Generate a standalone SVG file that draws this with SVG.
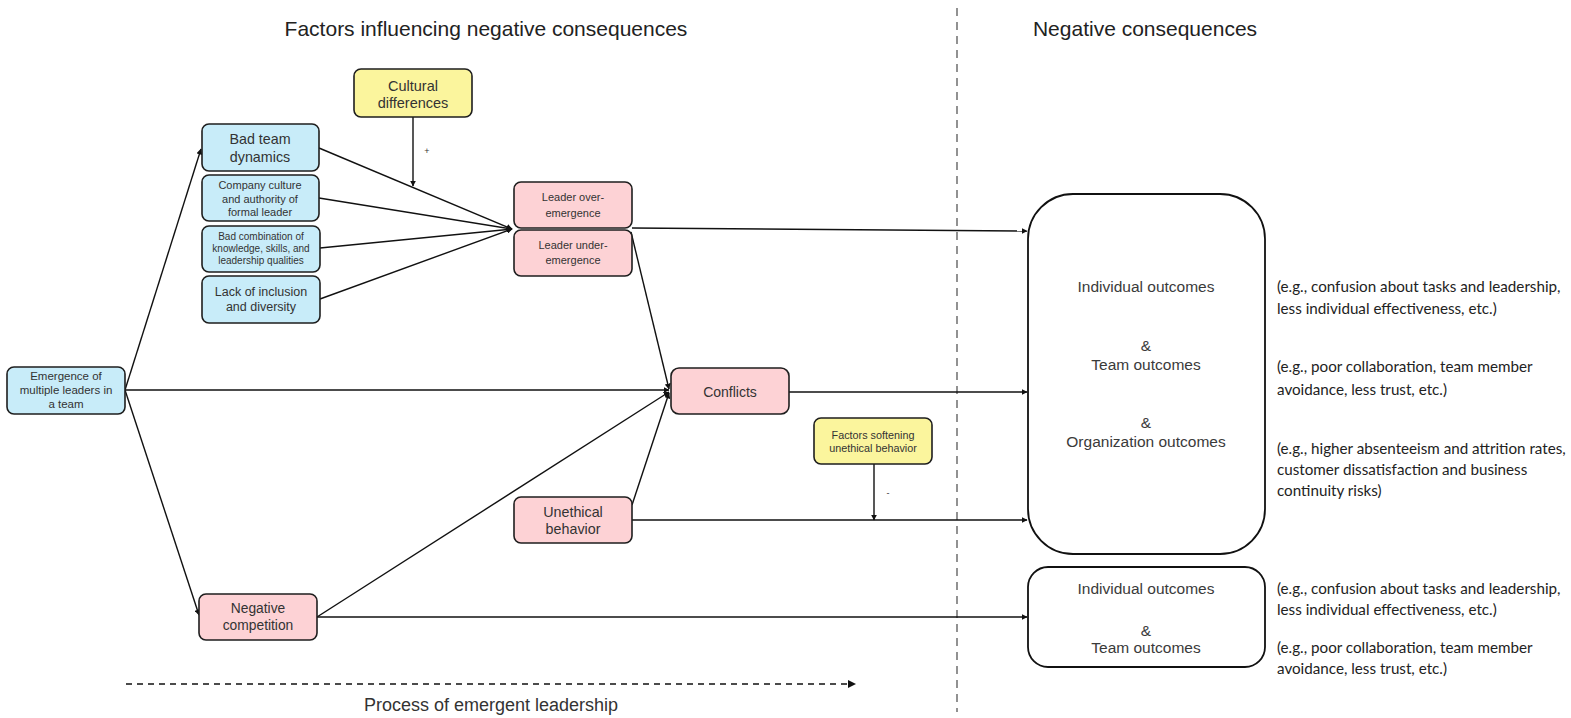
<svg xmlns="http://www.w3.org/2000/svg" width="1571" height="718" viewBox="0 0 1571 718">
  <style>
    .node rect { stroke: #1e1e1e; stroke-width: 1.6; }
    .blue rect { fill: #c8ecf9; }
    .pink rect { fill: #fdd2d5; }
    .yellow rect { fill: #fbf59d; }
    .out rect { fill: #ffffff; stroke: #111; stroke-width: 1.8; }
    text { font-family: "Liberation Sans", Arial, sans-serif; fill: #333; text-anchor: middle; dominant-baseline: central; }
    .title { font-size: 21px; fill: #222; }
    .outc { font-size: 15.5px; fill: #3a3a3a; }
    .note { font-family: Lato, "Open Sans", sans-serif; font-size: 15.2px; text-anchor: start; fill: #222; }
    .edge { stroke: #111; stroke-width: 1.4; fill: none; marker-end: url(#arrow); }
  </style>
  <defs>
    <marker id="arrow" viewBox="0 0 10 10" refX="9" refY="5" markerWidth="6" markerHeight="6" markerUnits="userSpaceOnUse" orient="auto">
      <path d="M0,0 L10,5 L0,10 z" fill="#111"/>
    </marker>
  </defs>

  <rect width="1571" height="718" fill="#ffffff"/>

  <!-- section headings -->
  <text class="title" x="486" y="28">Factors influencing negative consequences</text>
  <text class="title" x="1145" y="28">Negative consequences</text>
  <line x1="957" y1="8" x2="957" y2="712" stroke="#777" stroke-width="1.6" stroke-dasharray="8,6"/>

  <!-- connectors -->
  <g id="connectors">
    <path class="edge" d="M125,390 L201,149"/>
    <path class="edge" d="M125,390 L199,615"/>
    <path class="edge" d="M125,390 L669,390"/>
    <path class="edge" d="M319,148 L512,229"/>
    <path class="edge" d="M319,198 L512,229"/>
    <path class="edge" d="M320,248 L512,229"/>
    <path class="edge" d="M320,299 L512,229"/>
    <path class="edge" d="M413,117 L413,186"/>
    <path class="edge" d="M632,228 L1027,231"/>
    <path class="edge" d="M631,232 L669,389"/>
    <path class="edge" d="M632,505 L669,393"/>
    <path class="edge" d="M317,617 L669,392"/>
    <path class="edge" d="M789,392 L1027,392"/>
    <path class="edge" d="M632,520 L1027,520"/>
    <path class="edge" d="M874,464 L874,520"/>
    <path class="edge" d="M317,617 L1027,617"/>
    <path d="M126,684 L852,684" stroke="#111" stroke-width="1.6" stroke-dasharray="6,5" fill="none"/>
    <path d="M848,680 L856,684 L848,688 z" fill="#111"/>
    <text x="427" y="151" style="font-size:9px">+</text>
    <text x="888" y="493" style="font-size:9px">-</text>
  </g>

  <!-- factor nodes -->
  <g id="cultural-differences" class="node yellow">
    <rect x="354" y="69" width="118" height="48" rx="7"/>
    <text x="413" y="86" style="font-size:14.5px">Cultural</text>
    <text x="413" y="103" style="font-size:14.5px">differences</text>
  </g>
  <g id="bad-team-dynamics" class="node blue">
    <rect x="202" y="124" width="117" height="47" rx="7"/>
    <text x="260" y="139" style="font-size:14.3px">Bad team</text>
    <text x="260" y="157" style="font-size:14.3px">dynamics</text>
  </g>
  <g id="company-culture" class="node blue">
    <rect x="202" y="175" width="117" height="46" rx="7"/>
    <text x="260" y="185" style="font-size:11px">Company culture</text>
    <text x="260" y="198.5" style="font-size:11px">and authority of</text>
    <text x="260" y="212" style="font-size:11px">formal leader</text>
  </g>
  <g id="bad-combination" class="node blue">
    <rect x="202" y="226" width="118" height="46" rx="7"/>
    <text x="261" y="236" style="font-size:10px">Bad combination of</text>
    <text x="261" y="248.5" style="font-size:10px">knowledge, skills, and</text>
    <text x="261" y="260.5" style="font-size:10px">leadership qualities</text>
  </g>
  <g id="lack-of-inclusion" class="node blue">
    <rect x="202" y="276" width="118" height="47" rx="7"/>
    <text x="261" y="292" style="font-size:12.5px">Lack of inclusion</text>
    <text x="261" y="307" style="font-size:12.5px">and diversity</text>
  </g>
  <g id="emergence" class="node blue">
    <rect x="7" y="367" width="118" height="47" rx="7"/>
    <text x="66" y="376" style="font-size:11.5px">Emergence of</text>
    <text x="66" y="390" style="font-size:11.5px">multiple leaders in</text>
    <text x="66" y="404" style="font-size:11.5px">a team</text>
  </g>
  <g id="leader-over-emergence" class="node pink">
    <rect x="514" y="182" width="118" height="46" rx="7"/>
    <text x="573" y="197" style="font-size:11px">Leader over-</text>
    <text x="573" y="213" style="font-size:11px">emergence</text>
  </g>
  <g id="leader-under-emergence" class="node pink">
    <rect x="514" y="230" width="118" height="46" rx="7"/>
    <text x="573" y="245" style="font-size:11px">Leader under-</text>
    <text x="573" y="260" style="font-size:11px">emergence</text>
  </g>
  <g id="conflicts" class="node pink">
    <rect x="671" y="368" width="118" height="46" rx="8"/>
    <text x="730" y="392" style="font-size:14px">Conflicts</text>
  </g>
  <g id="factors-softening" class="node yellow">
    <rect x="814" y="418" width="118" height="46" rx="7"/>
    <text x="873" y="435" style="font-size:10.8px">Factors softening</text>
    <text x="873" y="448" style="font-size:10.8px">unethical behavior</text>
  </g>
  <g id="unethical-behavior" class="node pink">
    <rect x="514" y="497" width="118" height="46" rx="7"/>
    <text x="573" y="512" style="font-size:14.3px">Unethical</text>
    <text x="573" y="529" style="font-size:14.3px">behavior</text>
  </g>
  <g id="negative-competition" class="node pink">
    <rect x="199" y="594" width="118" height="46" rx="7"/>
    <text x="258" y="608" style="font-size:13.8px">Negative</text>
    <text x="258" y="625" style="font-size:13.8px">competition</text>
  </g>

  <!-- outcome nodes -->
  <g id="outcomes-all" class="node out">
    <rect x="1028" y="194" width="237" height="360" rx="45"/>
    <text class="outc" x="1146" y="286">Individual outcomes</text>
    <text class="outc" x="1146" y="345">&amp;</text>
    <text class="outc" x="1146" y="364">Team outcomes</text>
    <text class="outc" x="1146" y="422">&amp;</text>
    <text class="outc" x="1146" y="441">Organization outcomes</text>
  </g>
  <g id="outcomes-individual-team" class="node out">
    <rect x="1028" y="567" width="237" height="100" rx="20"/>
    <text class="outc" x="1146" y="588">Individual outcomes</text>
    <text class="outc" x="1146" y="630">&amp;</text>
    <text class="outc" x="1146" y="647">Team outcomes</text>
  </g>

  <!-- examples -->
  <g id="examples">
    <text class="note" x="1277" y="286">(e.g., confusion about tasks and leadership,</text>
    <text class="note" x="1277" y="308">less individual effectiveness, etc.)</text>
    <text class="note" x="1277" y="366">(e.g., poor collaboration, team member</text>
    <text class="note" x="1277" y="389">avoidance, less trust, etc.)</text>
    <text class="note" x="1277" y="448">(e.g., higher absenteeism and attrition rates,</text>
    <text class="note" x="1277" y="469">customer dissatisfaction and business</text>
    <text class="note" x="1277" y="490">continuity risks)</text>
    <text class="note" x="1277" y="588">(e.g., confusion about tasks and leadership,</text>
    <text class="note" x="1277" y="609">less individual effectiveness, etc.)</text>
    <text class="note" x="1277" y="647">(e.g., poor collaboration, team member</text>
    <text class="note" x="1277" y="668">avoidance, less trust, etc.)</text>
  </g>

  <text x="491" y="705" style="font-size:18px">Process of emergent leadership</text>
</svg>
